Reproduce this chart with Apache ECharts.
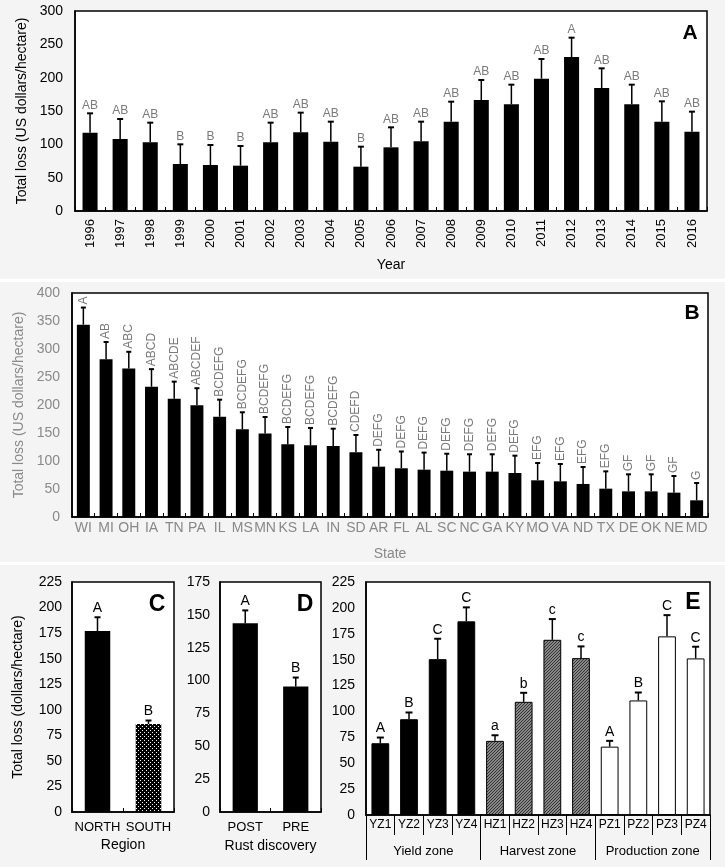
<!DOCTYPE html>
<html>
<head>
<meta charset="utf-8">
<script src="https://cdn.jsdelivr.net/npm/echarts@6/dist/echarts.min.js"></script>
<style>
html,body{margin:0;padding:0;background:#f4f4f4;}
#chart{width:725px;height:867px;}
</style>
</head>
<body>
<div id="chart"></div>
<script>
// ---------- DATA ----------
const yearCats = ['1996','1997','1998','1999','2000','2001','2002','2003','2004','2005','2006','2007','2008','2009','2010','2011','2012','2013','2014','2015','2016'];
const yearMeans = [117.5,108,103,70.5,69,68,103,118,104,66.5,95.5,104.5,134,166.5,160,198.5,231,184.5,160,134,119];
const yearErrors = [29,30,29.5,29.5,30,29.5,29.5,29.5,30,30,30,29.5,30,30,29.5,29.5,29,29.5,29.5,30.5,30];
const yearLetters = ['AB','AB','AB','B','B','B','AB','AB','AB','B','AB','AB','AB','AB','AB','AB','A','AB','AB','AB','AB'];
const yearTicks = [0,300,50];

const stateCats = ['WI','MI','OH','IA','TN','PA','IL','MS','MN','KS','LA','IN','SD','AR','FL','AL','SC','NC','GA','KY','MO','VA','ND','TX','DE','OK','NE','MD'];
const stateMeans = [343.5,281.5,265,232.7,211,199.4,179,156.5,149,129.8,128,126.8,115.5,89.9,87,84.5,82.7,81,81,78.6,65.5,63.7,59,50.6,45.8,45.8,43.5,29.8];
const stateErrors = [30.5,31,30,31.3,30.7,30.6,30.5,30.5,29.6,30.9,31,30.9,30.9,30.1,30,30.5,30.3,31,31,30.9,30.9,30.9,30.3,30.9,30.4,30.4,29.7,30.9];
const stateLetters = ['A','AB','ABC','ABCD','ABCDE','ABCDEF','BCDEFG','BCDEFG','BCDEFG','BCDEFG','BCDEFG','BCDEFG','CDEFD','DEFG','DEFG','DEFG','DEFG','DEFG','DEFG','DEFG','EFG','EFG','EFG','EFG','GF','GF','GF','G'];
const stateTicks = [0,400,50];

const regionCats = ['NORTH','SOUTH'];
const regionMeans = [177,86];
const regionErrors = [13.5,3.5];
const regionLetters = ['A','B'];
const regionTicks = [0,225,25];

const rustCats = ['POST','PRE'];
const rustMeans = [143.7,95.4];
const rustErrors = [9.7,6.9];
const rustLetters = ['A','B'];
const rustTicks = [0,175,25];

const zoneCats = ['YZ1','YZ2','YZ3','YZ4','HZ1','HZ2','HZ3','HZ4','PZ1','PZ2','PZ3','PZ4'];
const zoneMeans = [69.3,92.5,150.5,187,71.6,109.3,169.2,151.5,66,110.6,172.5,151.2];
const zoneErrors = [5.5,6.5,19.7,13.5,5.4,8.7,20,11.3,5.6,7.7,20.5,11.3];
const zoneLetters = ['A','B','C','C','a','b','c','c','A','B','C','C'];
const zoneGroups = ['Yield zone','Harvest zone','Production zone'];
const zoneTicks = [0,225,25];

// ---------- STYLE HELPERS ----------
const FONT = '"Liberation Sans", Arial, Helvetica, sans-serif';

function makePattern(size, draw){
  const c = document.createElement('canvas');
  c.width = size; c.height = size;
  const ctx = c.getContext('2d');
  draw(ctx);
  return {image: c, repeat: 'repeat'};
}
const southPattern = makePattern(4, ctx => {
  ctx.fillStyle = '#000'; ctx.fillRect(0,0,4,4);
  ctx.fillStyle = '#fff'; ctx.fillRect(0,0,1,1); ctx.fillRect(2,2,1,1);
});
const harvestPattern = makePattern(3, ctx => {
  ctx.fillStyle = '#888'; ctx.fillRect(0,0,3,3);
  ctx.fillStyle = '#333'; ctx.fillRect(0,0,1,1); ctx.fillRect(1,2,1,1); ctx.fillRect(2,1,1,1);
});

function errSeries(idx, means, errs, letters, opt){
  return {
    type: 'custom',
    xAxisIndex: idx, yAxisIndex: idx,
    z: 5,
    data: means.map((v,i)=>[i, v, errs[i]]),
    renderItem: function(params, api){
      const i = api.value(0), v = api.value(1), e = api.value(2);
      const p0 = api.coord([i, v]);
      const p1 = api.coord([i, v + e]);
      const txt = letters[params.dataIndex];
      const children = [
        {type:'line', shape:{x1:p0[0], y1:p0[1], x2:p1[0], y2:p1[1]}, style:{stroke:'#000', lineWidth:1.5}},
        {type:'line', shape:{x1:p1[0]-opt.cap, y1:p1[1], x2:p1[0]+opt.cap, y2:p1[1]}, style:{stroke:'#000', lineWidth:2}}
      ];
      if (opt.rotate) {
        children.push({type:'text', x:p1[0], y:p1[1]-opt.gap, rotation:Math.PI/2,
          style:{text:txt, fill:opt.color, font:opt.font, align:'left', verticalAlign:'middle'}});
      } else {
        children.push({type:'text', x:p1[0], y:p1[1]-opt.gap,
          style:{text:txt, fill:opt.color, font:opt.font, align:'center', verticalAlign:'bottom'}});
      }
      return {type:'group', children: children};
    }
  };
}

function gridDef(left, top, width, height){
  return {left:left, top:top, width:width, height:height, show:true, backgroundColor:'#fff', borderColor:'#000', borderWidth:1.5, containLabel:false};
}

function yAxisDef(idx, ticks, color, name, gap, margin){
  return {
    type:'value', gridIndex: idx, min: ticks[0], max: ticks[1], interval: ticks[2],
    axisLine:{show:true, lineStyle:{color:'#000', width:1.5}},
    axisTick:{show:false}, splitLine:{show:false},
    axisLabel:{color:color, fontSize:14, fontFamily:FONT, margin:margin},
    name: name, nameLocation:'middle', nameGap: gap, nameRotate: 90,
    nameTextStyle:{color:color, fontSize:14, fontFamily:FONT}
  };
}

function xAxisDef(idx, cats, color, name, gap, extra){
  const a = {
    type:'category', gridIndex: idx, data: cats, position:'bottom',
    axisLine:{show:true, lineStyle:{color:'#000', width:1.5}},
    axisTick:{show:true, inside:true, length:4, alignWithLabel:false, lineStyle:{color:'#000', width:1}},
    axisLabel:{color:color, fontSize:14, fontFamily:FONT, interval:0, margin:6},
    name: name, nameLocation:'middle', nameGap: gap,
    nameTextStyle:{color:color, fontSize:14, fontFamily:FONT}
  };
  return Object.assign(a, extra || {});
}

// ---------- OPTION ----------
const zoneColors = zoneCats.map((c,i)=> i < 4 ? '#000' : (i < 8 ? harvestPattern : '#fff'));

const option = {
  backgroundColor: '#f4f4f4',
  animation: false,
  grid: [
    gridDef(75, 11, 632, 200),
    gridDef(72, 293, 636, 224),
    gridDef(72, 582, 102, 230),
    gridDef(220, 582, 101, 230),
    gridDef(366, 582, 344, 233)
  ],
  xAxis: [
    xAxisDef(0, yearCats, '#000', 'Year', 47, {axisLabel:{color:'#000', fontSize:13, fontFamily:FONT, interval:0, rotate:90, margin:8}}),
    xAxisDef(1, stateCats, '#888', 'State', 30, {axisLabel:{color:'#888', fontSize:14, fontFamily:FONT, interval:0, margin:4}}),
    xAxisDef(2, regionCats, '#000', 'Region', 26, {axisLabel:{color:'#000', fontSize:13, fontFamily:FONT, interval:0, margin:9}}),
    xAxisDef(3, rustCats, '#000', 'Rust discovery', 27, {axisLabel:{color:'#000', fontSize:13, fontFamily:FONT, interval:0, margin:9}}),
    xAxisDef(4, zoneCats, '#000', '', 0, {
      axisTick:{show:true, inside:false, length:20, alignWithLabel:false, lineStyle:{color:'#000', width:1}},
      axisLabel:{color:'#000', fontSize:12, fontFamily:FONT, interval:0, margin:4}}),
    {
      type:'category', gridIndex:4, data: zoneGroups, position:'bottom', offset:0,
      axisLine:{show:false},
      axisTick:{show:true, inside:false, length:45, alignWithLabel:false, lineStyle:{color:'#000', width:1}},
      axisLabel:{color:'#000', fontSize:13, fontFamily:FONT, interval:0, margin:30}
    }
  ],
  yAxis: [
    yAxisDef(0, yearTicks, '#000', 'Total loss (US dollars/hectare)', 45, 12),
    yAxisDef(1, stateTicks, '#8a8a8a', 'Total loss (US dollars/hectare)', 46, 12),
    yAxisDef(2, regionTicks, '#000', 'Total loss (dollars/hectare)', 47, 10),
    yAxisDef(3, rustTicks, '#000', '', 0, 10),
    yAxisDef(4, zoneTicks, '#000', '', 0, 11)
  ],
  series: [
    {type:'bar', xAxisIndex:0, yAxisIndex:0, data: yearMeans, barWidth:'50%', itemStyle:{color:'#000'}},
    errSeries(0, yearMeans, yearErrors, yearLetters, {cap:3, gap:2, color:'#7a7a7a', font:'12px '+FONT}),
    {type:'bar', xAxisIndex:1, yAxisIndex:1, data: stateMeans, barWidth:'57%', itemStyle:{color:'#000'}},
    errSeries(1, stateMeans, stateErrors, stateLetters, {cap:2.5, gap:3, color:'#7a7a7a', font:'12px '+FONT, rotate:true}),
    {type:'bar', xAxisIndex:2, yAxisIndex:2, barWidth:'50%',
      data: regionMeans.map((v,i)=>({value:v, itemStyle:{color: i===0 ? '#000' : southPattern}}))},
    errSeries(2, regionMeans, regionErrors, regionLetters, {cap:3, gap:2, color:'#000', font:'14px '+FONT}),
    {type:'bar', xAxisIndex:3, yAxisIndex:3, data: rustMeans, barWidth:'50%', itemStyle:{color:'#000'}},
    errSeries(3, rustMeans, rustErrors, rustLetters, {cap:3, gap:2, color:'#000', font:'14px '+FONT}),
    {type:'bar', xAxisIndex:4, yAxisIndex:4, barWidth:'62%',
      data: zoneMeans.map((v,i)=>({value:v, itemStyle:{color: zoneColors[i], borderColor:'#000', borderWidth:1}}))},
    errSeries(4, zoneMeans, zoneErrors, zoneLetters, {cap:3.5, gap:2, color:'#000', font:'14px '+FONT})
  ],
  graphic: [
    {type:'rect', left:0, top:279, shape:{width:725, height:3}, style:{fill:'#fff'}, silent:true},
    {type:'rect', left:0, top:562, shape:{width:725, height:3}, style:{fill:'#fff'}, silent:true},
    {type:'text', x:690, y:33, style:{text:'A', font:'bold 21px '+FONT, fill:'#000', align:'center', verticalAlign:'middle'}},
    {type:'text', x:692, y:313, style:{text:'B', font:'bold 21px '+FONT, fill:'#000', align:'center', verticalAlign:'middle'}},
    {type:'text', x:157, y:605, style:{text:'C', font:'bold 23px '+FONT, fill:'#000', align:'center', verticalAlign:'middle'}},
    {type:'text', x:305, y:605, style:{text:'D', font:'bold 23px '+FONT, fill:'#000', align:'center', verticalAlign:'middle'}},
    {type:'text', x:693, y:603, style:{text:'E', font:'bold 23px '+FONT, fill:'#000', align:'center', verticalAlign:'middle'}}
  ]
};

const chart = echarts.init(document.getElementById('chart'), null, {renderer:'canvas'});
chart.setOption(option);
</script>
</body>
</html>
